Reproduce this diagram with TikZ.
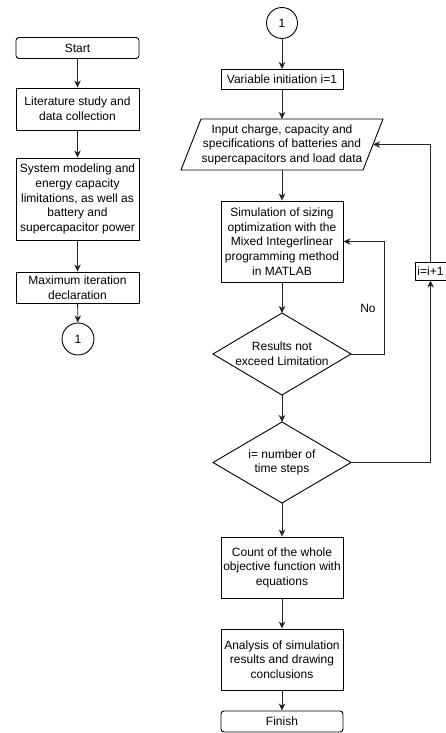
\documentclass[tikz,border=0pt]{standalone}
\usepackage{fontspec}
\setmainfont{Liberation Sans}
\usetikzlibrary{arrows.meta}
\begin{document}
\begin{tikzpicture}[x=1pt,y=-1pt,
  font=\fontsize{12}{14.6}\selectfont,
  box/.style={draw=black,line width=0.9pt,inner sep=0pt,align=center,minimum width=#1},
  box/.default=123pt,
  term/.style={box,rounded corners=3pt},
  conn/.style={draw=black,line width=0.9pt,circle,inner sep=0pt,minimum size=31pt},
  arr/.style={draw=black!85,line width=0.9pt,-{Stealth[length=7pt,width=6.5pt,inset=2pt]}},
  ln/.style={draw=black!85,line width=0.9pt}]
\useasboundingbox (0,0) rectangle (446,733);
% left column
\node[term,minimum height=21pt] (start) at (77.5,48) {Start};
\node[box,minimum height=42pt] (lit) at (77.5,109) {Literature study and\\data collection};
\node[box,minimum height=82pt] (sys) at (77.5,199) {System modeling and\\energy capacity\\limitations, as well as\\battery and\\supercapacitor power};
\node[box,minimum height=31pt] (max) at (77.5,287.5) {Maximum iteration\\declaration};
\node[conn,minimum size=32pt] (c1) at (78,339) {1};
\draw[arr] (start) -- (lit);
\draw[arr] (lit) -- (sys);
\draw[arr] (sys) -- (max);
\draw[arr] (max) -- (c1);
% right column
\node[conn] (c2) at (282,23) {1};
\node[box,minimum width=122pt,minimum height=20pt] (var) at (282,79.5) {Variable initiation i=1};
% parallelogram
\coordinate (ptl) at (201,119);
\coordinate (ptr) at (383,119);
\coordinate (pbr) at (363,170);
\coordinate (pbl) at (181,170);
\draw[line width=0.9pt] (ptl) -- (ptr) -- (pbr) -- (pbl) -- cycle;
\node[align=center,inner sep=0pt,minimum width=160pt,minimum height=51pt] (inp) at (282,144.5) {Input charge, capacity and\\specifications of batteries and\\supercapacitors and load data};
\coordinate (pin) at (373,144.5);
\node[box,minimum width=122pt,minimum height=81pt] (sim) at (282,241.5) {Simulation of sizing\\optimization with the\\Mixed Integerlinear\\programming method\\in MATLAB};
% diamond 1
\node[align=center,inner sep=0pt] (d1) at (282,354) {Results not\\exceed Limitation};
\coordinate (d1n) at (282,313);
\coordinate (d1e) at (351,354);
\coordinate (d1s) at (282,395);
\coordinate (d1w) at (213,354);
\draw[line width=0.9pt] (d1n) -- (d1e) -- (d1s) -- (d1w) -- cycle;
% diamond 2
\node[align=center,inner sep=0pt] (d2) at (282,462.5) {i= number of\\time steps};
\coordinate (d2n) at (282,422);
\coordinate (d2e) at (351,462.5);
\coordinate (d2s) at (282,503);
\coordinate (d2w) at (213,462.5);
\draw[line width=0.9pt] (d2n) -- (d2e) -- (d2s) -- (d2w) -- cycle;
\node[box,minimum width=122pt,minimum height=61pt] (count) at (282,567.5) {Count of the whole\\objective function with\\equations};
\node[box,minimum width=122pt,minimum height=61pt] (ana) at (282,659.5) {Analysis of simulation\\results and drawing\\conclusions};
\node[term,minimum width=122pt,minimum height=21pt] (fin) at (282,721.5) {Finish};
\node[box,minimum width=31pt,minimum height=18pt] (inc) at (430.5,271) {i=i+1};
\node[inner sep=0pt] (no) at (368,308) {No};
% connectors
\draw[arr] (c2) -- (var);
\draw[arr] (var) -- (282,119);
\draw[arr] (282,170) -- (sim);
\draw[arr] (sim) -- (d1n);
\draw[arr] (d1s) -- (d2n);
\draw[arr] (d2s) -- (count);
\draw[arr] (count) -- (ana);
\draw[arr] (ana) -- (fin);
\draw[arr] (d1e) -- (384,354) |- (sim.east);
\draw[arr] (d2e) -| (inc.south);
\draw[arr] (inc.north) |- (pin);
\end{tikzpicture}
\end{document}
